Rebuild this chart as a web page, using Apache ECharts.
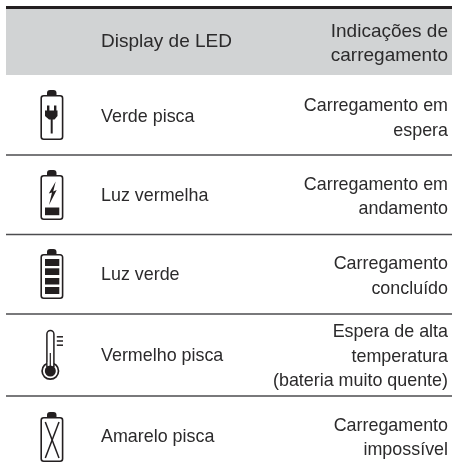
<!DOCTYPE html>
<html><head><meta charset="utf-8">
<style>html,body{margin:0;padding:0;background:#fff}#c{width:452px;height:471px}</style>
<script src="https://cdn.jsdelivr.net/npm/echarts@6/dist/echarts.min.js"></script>
</head><body><div id="c"></div>
<script>
const headers = ['Display de LED', 'Indicações de\ncarregamento'];
const leds = ['Verde pisca', 'Luz vermelha', 'Luz verde', 'Vermelho pisca', 'Amarelo pisca'];
const indications = ['Carregamento em\nespera', 'Carregamento em\nandamento', 'Carregamento\nconcluído', 'Espera de alta\ntemperatura\n(bateria muito quente)', 'Carregamento\nimpossível'];
const icons = ['plug', 'bolt', 'full', 'thermo', 'cross'];

const INK = '#231f20', TXT = '#2b2a2b', FONT = '"Liberation Sans", Arial, sans-serif';
const leftMid = [117, 196, 275, 356.5, 437];
const rightMid = [118.5, 197, 276.5, 357, 438];
const rules = [155, 234.5, 314, 396];
const iconTop = [90, 170, 249, 0, 412];

const rect = (x, y, w, h, r, stroke) => ({type:'rect', shape:{x, y, width:w, height:h, r:r||0},
  style: stroke ? {fill:'#fff', stroke:INK, lineWidth:stroke} : {fill:INK}});
const line = (x1, y1, x2, y2, w) => ({type:'line', shape:{x1, y1, x2, y2}, style:{stroke:INK, lineWidth:w||1.5}});
const poly = pts => ({type:'polygon', shape:{points:pts}, style:{fill:INK}});

function battery(top) {
  return [
    rect(47, top, 9.5, 6.5, [3,3,0,0]),
    rect(41.2, top+5.8, 21.4, 43.4, 2.5, 1.6)
  ];
}
function iconShapes(kind, i) {
  const t = iconTop[i];
  if (kind === 'plug') return battery(t).concat([
    rect(47, t+15.5, 2.4, 6), rect(54, t+15.5, 2.4, 6),
    poly([[45,t+20.5],[57.5,t+20.5],[57.5,t+26],[54.5,t+29.5],[49,t+29.5],[45,t+26]]),
    rect(50.7, t+29, 2, 14.5)
  ]);
  if (kind === 'bolt') return battery(t).concat([
    poly([[55.7,t+11.5],[48.8,t+23.5],[52,t+22.5],[49,t+35],[56.7,t+20],[53.2,t+21.5]]),
    rect(45, t+37.5, 14.3, 7.7)
  ]);
  if (kind === 'full') return battery(t).concat([
    rect(45, t+10, 14.3, 7), rect(45, t+19.3, 14.3, 6.7), rect(45, t+29, 14.3, 6.5), rect(45, t+38, 14.3, 7)
  ]);
  if (kind === 'cross') return battery(t).concat([
    line(45.3, t+10, 59, t+46), line(59, t+10, 45.3, t+46)
  ]);
  return [
    {type:'circle', shape:{cx:50.3, cy:371, r:8.2}, style:{fill:'#fff', stroke:INK, lineWidth:1.7}},
    {type:'rect', shape:{x:46.9, y:330.5, width:7, height:36, r:[3.5,3.5,0,0]}, style:{fill:'#fff', stroke:INK, lineWidth:1.5}},
    {type:'rect', shape:{x:47.8, y:362, width:5.2, height:6}, style:{fill:'#fff'}},
    {type:'circle', shape:{cx:50.3, cy:371, r:5.5}, style:{fill:INK}},
    line(50.3, 353, 50.3, 367, 1.2),
    line(56.8, 336.8, 63, 336.8), line(56.8, 341, 63, 341), line(56.8, 345.2, 63, 345.2)
  ];
}
const text = (x, y, s, align, size) => ({type:'text', x, y, style:{text:s, x:0, y:0, fill:TXT,
  font:size+'px '+FONT, align, verticalAlign:'middle', lineHeight:24.5}});

const g = [];
g.push({type:'rect', shape:{x:6, y:8, width:446, height:67}, style:{fill:'#d1d3d4'}});
g.push({type:'rect', shape:{x:6, y:6, width:446, height:3}, style:{fill:INK}});
rules.forEach(y => g.push({type:'rect', shape:{x:6, y:y-0.75, width:446, height:1.5}, style:{fill:'#4d4d4f'}}));
g.push(text(101, 41.5, headers[0], 'left', 19));
g.push(text(448, 44, headers[1], 'right', 19));
leds.forEach((s, i) => {
  g.push(text(101, leftMid[i], s, 'left', 17.9));
  g.push(text(448, rightMid[i], indications[i], 'right', 17.9));
  g.push({type:'group', children: iconShapes(icons[i], i)});
});
const chart = echarts.init(document.getElementById('c'), null, {renderer:'canvas'});
chart.setOption({animation:false, backgroundColor:'#fff', graphic:{elements:g}});
</script></body></html>
